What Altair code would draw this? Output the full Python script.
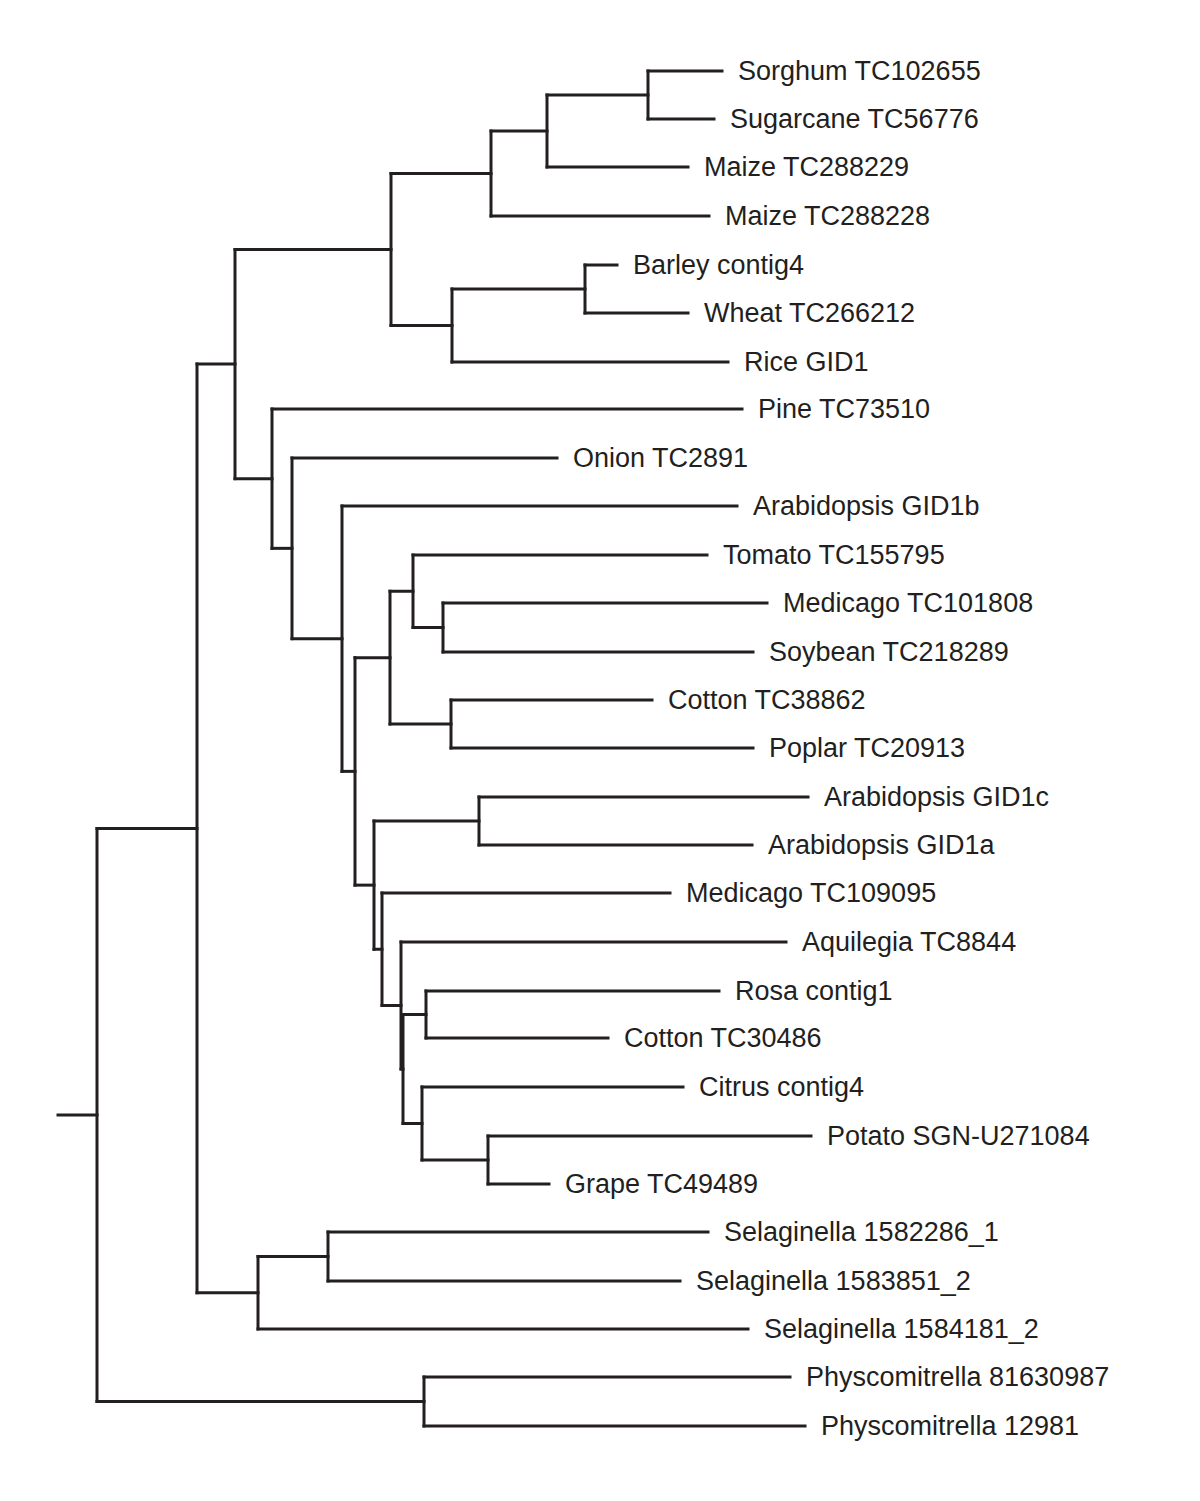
import altair as alt
import pandas as pd

# ---- leaves (tips) ----
leaf_names = [
    "Sorghum TC102655", "Sugarcane TC56776", "Maize TC288229", "Maize TC288228",
    "Barley contig4", "Wheat TC266212", "Rice GID1", "Pine TC73510", "Onion TC2891",
    "Arabidopsis GID1b", "Tomato TC155795", "Medicago TC101808", "Soybean TC218289",
    "Cotton TC38862", "Poplar TC20913", "Arabidopsis GID1c", "Arabidopsis GID1a",
    "Medicago TC109095", "Aquilegia TC8844", "Rosa contig1", "Cotton TC30486",
    "Citrus contig4", "Potato SGN-U271084", "Grape TC49489",
    "Selaginella 1582286_1", "Selaginella 1583851_2", "Selaginella 1584181_2",
    "Physcomitrella 81630987", "Physcomitrella 12981",
]
leaf_parent = ["A", "A", "B", "C", "D", "D", "E", "V", "U", "T", "H", "G", "G",
               "I", "I", "K", "K", "Q", "P", "L", "L", "N", "M", "M",
               "X", "X", "Y", "AA", "AA"]
# vertical order position of each tip
leaf_y = [71, 119, 167, 216, 265, 313, 362, 409, 458, 506, 555, 603, 652, 700, 748,
          797, 845, 893, 942, 991, 1038, 1087, 1136, 1184, 1232, 1281, 1329, 1377, 1426]
# cumulative distance of each tip
leaf_tip = [722, 714, 688, 709, 617, 688, 728, 742, 557, 737, 707, 767, 753, 652, 753,
            808, 752, 670, 786, 719, 608, 683, 811, 549, 708, 680, 748, 790, 805]

# ---- internal nodes ----
node_names = ["A", "B", "C", "D", "E", "F", "G", "H", "I", "J", "K", "L", "M", "N",
              "O", "P", "Q", "R", "S", "T", "U", "V", "W", "X", "Y", "Z", "AA", "root"]
node_parent = ["B", "C", "F", "E", "F", "W", "H", "J", "J", "S", "R", "O", "N", "O",
               "P", "Q", "R", "S", "T", "U", "V", "W", "Z", "Y", "Z", "root", "root", ""]
node_x = [648, 547, 491, 585, 452, 391, 443, 413, 451, 390, 479, 426, 488, 422,
          403, 401, 382, 374, 355, 342, 292, 272, 235, 328, 258, 197, 424, 97]
stem_start = 58

# ---- build branch segments from the tree ----
xpos = dict(zip(node_names, node_x))
xpos.update(dict(zip(leaf_names, leaf_tip)))
parent = dict(zip(node_names, node_parent))
parent.update(dict(zip(leaf_names, leaf_parent)))
children = {n: [] for n in node_names}
for c, p in parent.items():
    if p:
        children[p].append(c)

ypos = dict(zip(leaf_names, leaf_y))


def node_y(n):
    if n in ypos:
        return ypos[n]
    ys = [node_y(c) for c in children[n]]
    ypos[n] = (min(ys) + max(ys)) / 2
    return ypos[n]


node_y("root")

segs = []
for n, p in parent.items():
    px = xpos[p] if p else stem_start
    segs.append({"x": px, "x2": xpos[n], "y": ypos[n], "y2": ypos[n]})
for n in node_names:
    ys = [ypos[c] for c in children[n]]
    segs.append({"x": xpos[n], "x2": xpos[n], "y": min(ys), "y2": max(ys)})
seg_df = pd.DataFrame(segs)

lab_df = pd.DataFrame({"name": leaf_names, "x": leaf_tip, "y": leaf_y})

W, H = 1180, 1480
xs = alt.Scale(domain=[8, 8 + W], nice=False, zero=False)
ys = alt.Scale(domain=[8, 8 + H], nice=False, zero=False, reverse=True)

ink = "#231f20"

branches = alt.Chart(seg_df).mark_rule(
    color=ink, strokeWidth=3, strokeCap="square"
).encode(
    x=alt.X("x:Q", scale=xs, axis=None),
    x2="x2:Q",
    y=alt.Y("y:Q", scale=ys, axis=None),
    y2="y2:Q",
)

labels = alt.Chart(lab_df).mark_text(
    align="left", baseline="middle", dx=16, dy=1,
    font="Liberation Sans", fontSize=27, color=ink
).encode(
    x=alt.X("x:Q", scale=xs, axis=None),
    y=alt.Y("y:Q", scale=ys, axis=None),
    text="name:N",
)

chart = alt.layer(branches, labels).properties(
    width=W, height=H, padding=0, autosize=alt.AutoSizeParams(type="none"),
    background="white",
).configure_view(stroke=None)

chart.save("out.html", embed_options={"renderer": "svg", "actions": False})
